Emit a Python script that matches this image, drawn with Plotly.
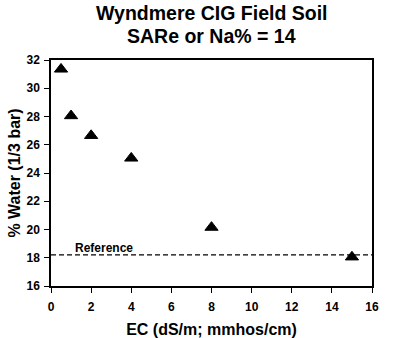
import plotly.graph_objects as go

ec = [0.5, 1, 2, 4, 8, 15]
water = [31.35, 28.05, 26.65, 25.05, 20.15, 18.05]
reference_value = 18.2
reference_label = "Reference"
title_lines = ["Wyndmere CIG Field Soil", "SARe or Na% = 14"]
x_title = "EC (dS/m; mmhos/cm)"
y_title = "% Water (1/3 bar)"

FONT = "Arial, Liberation Sans, sans-serif"

fig = go.Figure()
fig.add_trace(go.Scatter(
    x=ec, y=water, mode="markers",
    marker=dict(symbol="triangle-up", size=11.5, color="black",
                line=dict(color="black", width=1)),
    showlegend=False, hoverinfo="skip"))

fig.add_shape(type="line", xref="paper", x0=0, x1=1, yref="y",
              y0=reference_value, y1=reference_value,
              line=dict(color="black", width=1.2, dash="5px,3px"))

fig.add_annotation(x=1.1, y=reference_value, xref="x", yref="y",
                   text="<b>" + reference_label + "</b>", showarrow=False,
                   xanchor="left", yanchor="middle", yshift=7,
                   font=dict(family=FONT, size=12, color="black"))

# title lines
for i, (line, ypos) in enumerate(zip(title_lines, [1.208, 1.106])):
    fig.add_annotation(x=0.5, y=ypos, xref="paper", yref="paper",
                       text="<b>" + line + "</b>", showarrow=False,
                       xanchor="center", yanchor="middle",
                       font=dict(family=FONT, size=19.5, color="black"))

fig.update_layout(
    width=400, height=338,
    margin=dict(l=51, r=28, t=60, b=52, autoexpand=False),
    paper_bgcolor="white", plot_bgcolor="white",
    font=dict(family=FONT, color="black"),
)
axis_common = dict(showgrid=False, zeroline=False, showline=True, mirror=True,
                   linecolor="black", linewidth=1.5, ticks="outside",
                   ticklen=5, tickcolor="black", tickwidth=1, automargin=False,
                   tickfont=dict(family=FONT, size=12, color="black"))
fig.update_xaxes(range=[0, 16], dtick=2, tick0=0, ticklabelstandoff=4,
                 title=dict(text="<b>" + x_title + "</b>", standoff=12,
                            font=dict(family=FONT, size=16, color="black")),
                 tickprefix="<b>", ticksuffix="</b>", **axis_common)
fig.update_yaxes(range=[16, 32], dtick=2, tick0=16, ticklabelstandoff=2,
                 title=dict(text="<b>" + y_title + "</b>", standoff=2,
                            font=dict(family=FONT, size=16, color="black")),
                 tickprefix="<b>", ticksuffix="</b>", **axis_common)

fig.write_html("out.html")
